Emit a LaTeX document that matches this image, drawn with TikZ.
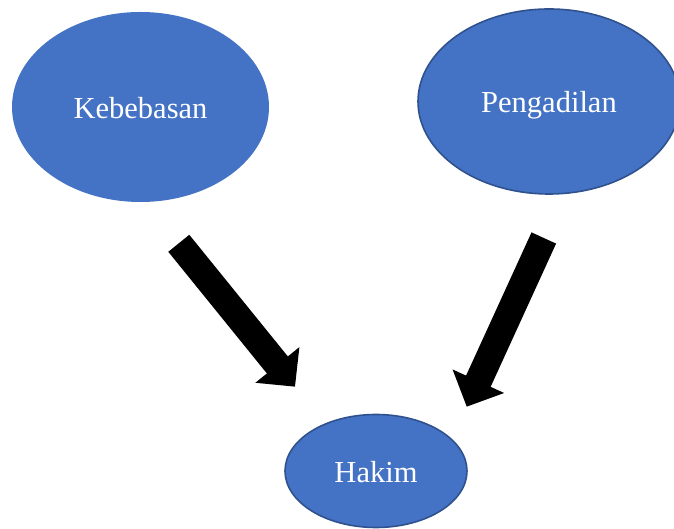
\documentclass[tikz,border=0pt]{standalone}
\usepackage{fontspec}
\setmainfont{Liberation Serif}
\usetikzlibrary{shapes.geometric,arrows.meta}
\definecolor{bubblefill}{HTML}{4472C4}
\definecolor{bubbleedge}{HTML}{2F528F}
\tikzset{
  bubble/.style={ellipse, fill=bubblefill, inner sep=0pt, text=white,
    font=\fontsize{30.5}{36}\selectfont, text height=24pt, text depth=0pt},
  edged/.style={draw=bubbleedge, line width=1.6pt},
  blockarrow/.style={line width=27pt, black,
    -{Triangle[length=28pt,width=55pt]}},
}
\begin{document}
\begin{tikzpicture}[x=1pt,y=1pt]
  \useasboundingbox (0,0) rectangle (674,529);
  \clip (0,0) rectangle (674,529);
  \fill[white] (0,0) rectangle (674,529);
  % concept bubbles
  \node[bubble, minimum width=257pt, minimum height=190pt] (kebebasan) at (140.5,422) {Kebebasan};
  \node[bubble, edged, minimum width=262pt, minimum height=185pt, text height=23pt] (pengadilan) at (549,427.5) {Pengadilan};
  \node[bubble, edged, minimum width=182pt, minimum height=113pt] (hakim) at (376,58) {Hakim};
  % free ends of the block arrows
  \coordinate (k1) at (178.8,285.7);
  \coordinate (k2) at (295,142.3);
  \coordinate (p1) at (543.8,291);
  \coordinate (p2) at (466.7,122.3);
  \draw[blockarrow] (k1) -- (k2);
  \draw[blockarrow] (p1) -- (p2);
\end{tikzpicture}
\end{document}
